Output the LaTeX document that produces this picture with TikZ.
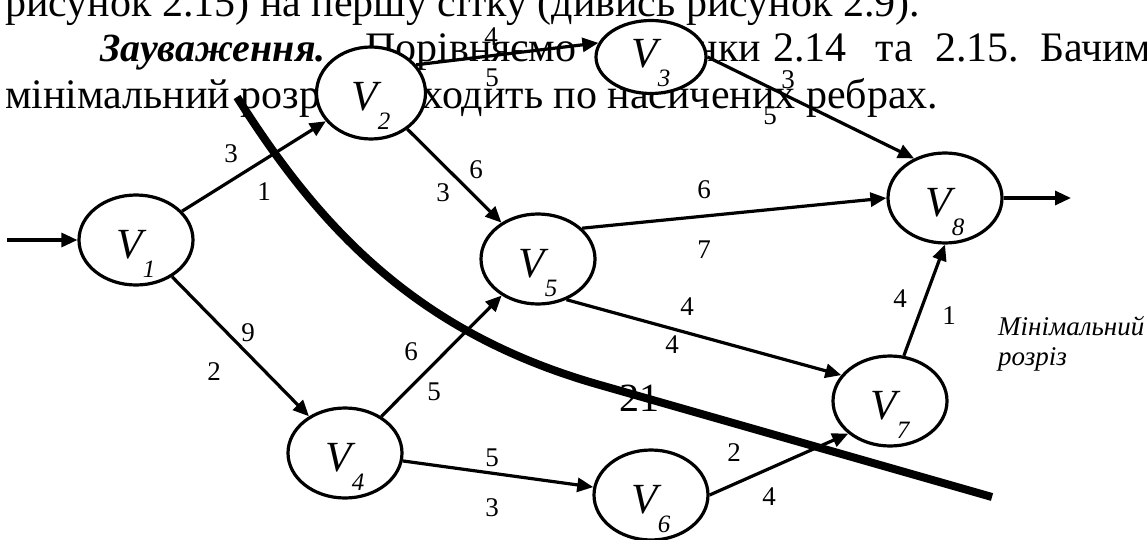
\documentclass[tikz,border=0pt]{standalone}
\usepackage{fontspec}
\setmainfont{Liberation Serif}
\usetikzlibrary{arrows.meta,shapes.geometric}
\newcommand{\vlab}[1]{{\fontsize{43}{43}\selectfont\itshape V\raisebox{-19pt}{\fontsize{25}{25}\selectfont #1}}}
\tikzset{
  vert/.style={ellipse,draw,line width=3.2pt,fill=white,minimum width=114pt,minimum height=90pt,
    inner sep=0pt,text height=40pt,text depth=4pt},
  edge/.style={line width=3.2pt,-{Triangle[length=16pt,width=14pt]}},
  wlab/.style={font=\fontsize{27}{27}\selectfont,inner sep=0pt},
  bodytext/.style={font=\fontsize{42}{46}\selectfont,anchor=base west,inner sep=0pt},
  note/.style={font=\fontsize{27}{30}\selectfont\itshape,anchor=base west,inner sep=0pt},
  cutline/.style={line width=8pt},
}
\begin{document}
\begin{tikzpicture}[x=1pt,y=-1pt]
\useasboundingbox (0,0) rectangle (1147,540);
% background text
\node[bodytext] (t1) at (5,17) {рисунок 2.15) на першу сітку (дивись рисунок 2.9).};
\node[bodytext,font=\fontsize{40}{46}\selectfont] (t2a) at (100,62) {\textbf{\textit{Зауваження.}}};
\node[bodytext] (t2b) at (365,62) {Порівняємо};
\node[bodytext] (t2c) at (598,62) {малюнки};
\node[bodytext] (t2d) at (773,62) {2.14};
\node[bodytext] (t2e) at (875,62) {та};
\node[bodytext] (t2f) at (935,62) {2.15.};
\node[bodytext] (t2g) at (1040,62) {Бачимо,};
\node[bodytext] (t3) at (5,109) {мінімальний розріз проходить по насичених ребрах.};
% cut
\draw[cutline] (237,97) .. controls (322,232) and (420,334) .. (600,385) -- (992,497);
\node[font=\fontsize{40}{40}\selectfont,inner sep=0pt] (cutval) at (639,398) {21};
\node[note] (n1) at (998,335) {Мінімальний};
\node[note] (n2) at (998,365) {розріз};
% vertices
\node[vert] (V1) at (136,240) {\vlab{1}};
\node[vert,minimum width=109pt,minimum height=92pt] (V2) at (371,93) {\vlab{2}};
\node[vert,minimum width=110pt,minimum height=73pt,text height=28pt,text depth=6pt] (V3) at (651,57) {\vlab{3}};
\node[vert] (V4) at (345,453) {\vlab{4}};
\node[vert] (V5) at (538,259) {\vlab{5}};
\node[vert] (V6) at (651,495) {\vlab{6}};
\node[vert] (V7) at (890,401) {\vlab{7}};
\node[vert] (V8) at (945,198) {\vlab{8}};
\coordinate (src) at (7,240);
\coordinate (snk) at (1071,198);
% edges
\draw[edge] (src) -- (V1.west);
\draw[edge] (V1) -- (V2);
\draw[edge] (V1) -- (V4);
\draw[edge] (V2.32) -- (V3.165);
\draw[edge] (V2) -- (V5);
\draw[edge] (V3.east) -- (V8.128);
\draw[edge] (V4) -- (V5);
\draw[edge] (V4) -- (V6);
\draw[edge] (V5.35) -- (V8.west);
\draw[edge] (V5.-55) -- (V7.152);
\draw[edge] (V6.east) -- (V7.218);
\draw[edge] (V7.73) -- (V8.south);
\draw[edge] (V8.east) -- (snk);
% edge labels
\node[wlab] (a1) at (231,154) {3};
\node[wlab] (a2) at (264,192) {1};
\node[wlab] (b1) at (248,333) {9};
\node[wlab] (b2) at (214,372) {2};
\node[wlab] (c1) at (491,37) {4};
\node[wlab] (c2) at (492,78) {5};
\node[wlab] (d1) at (476,170) {6};
\node[wlab] (d2) at (443,193) {3};
\node[wlab] (e1) at (788,80) {3};
\node[wlab] (e2) at (770,116) {5};
\node[wlab] (f1) at (704,190) {6};
\node[wlab] (f2) at (704,250) {7};
\node[wlab] (g1) at (687,307) {4};
\node[wlab] (g2) at (672,345) {4};
\node[wlab] (h1) at (411,352) {6};
\node[wlab] (h2) at (434,392) {5};
\node[wlab] (i1) at (492,458) {5};
\node[wlab] (i2) at (492,508) {3};
\node[wlab] (j1) at (734,453) {2};
\node[wlab] (j2) at (769,497) {4};
\node[wlab] (k1) at (900,299) {4};
\node[wlab] (k2) at (949,316) {1};
\end{tikzpicture}
\end{document}
